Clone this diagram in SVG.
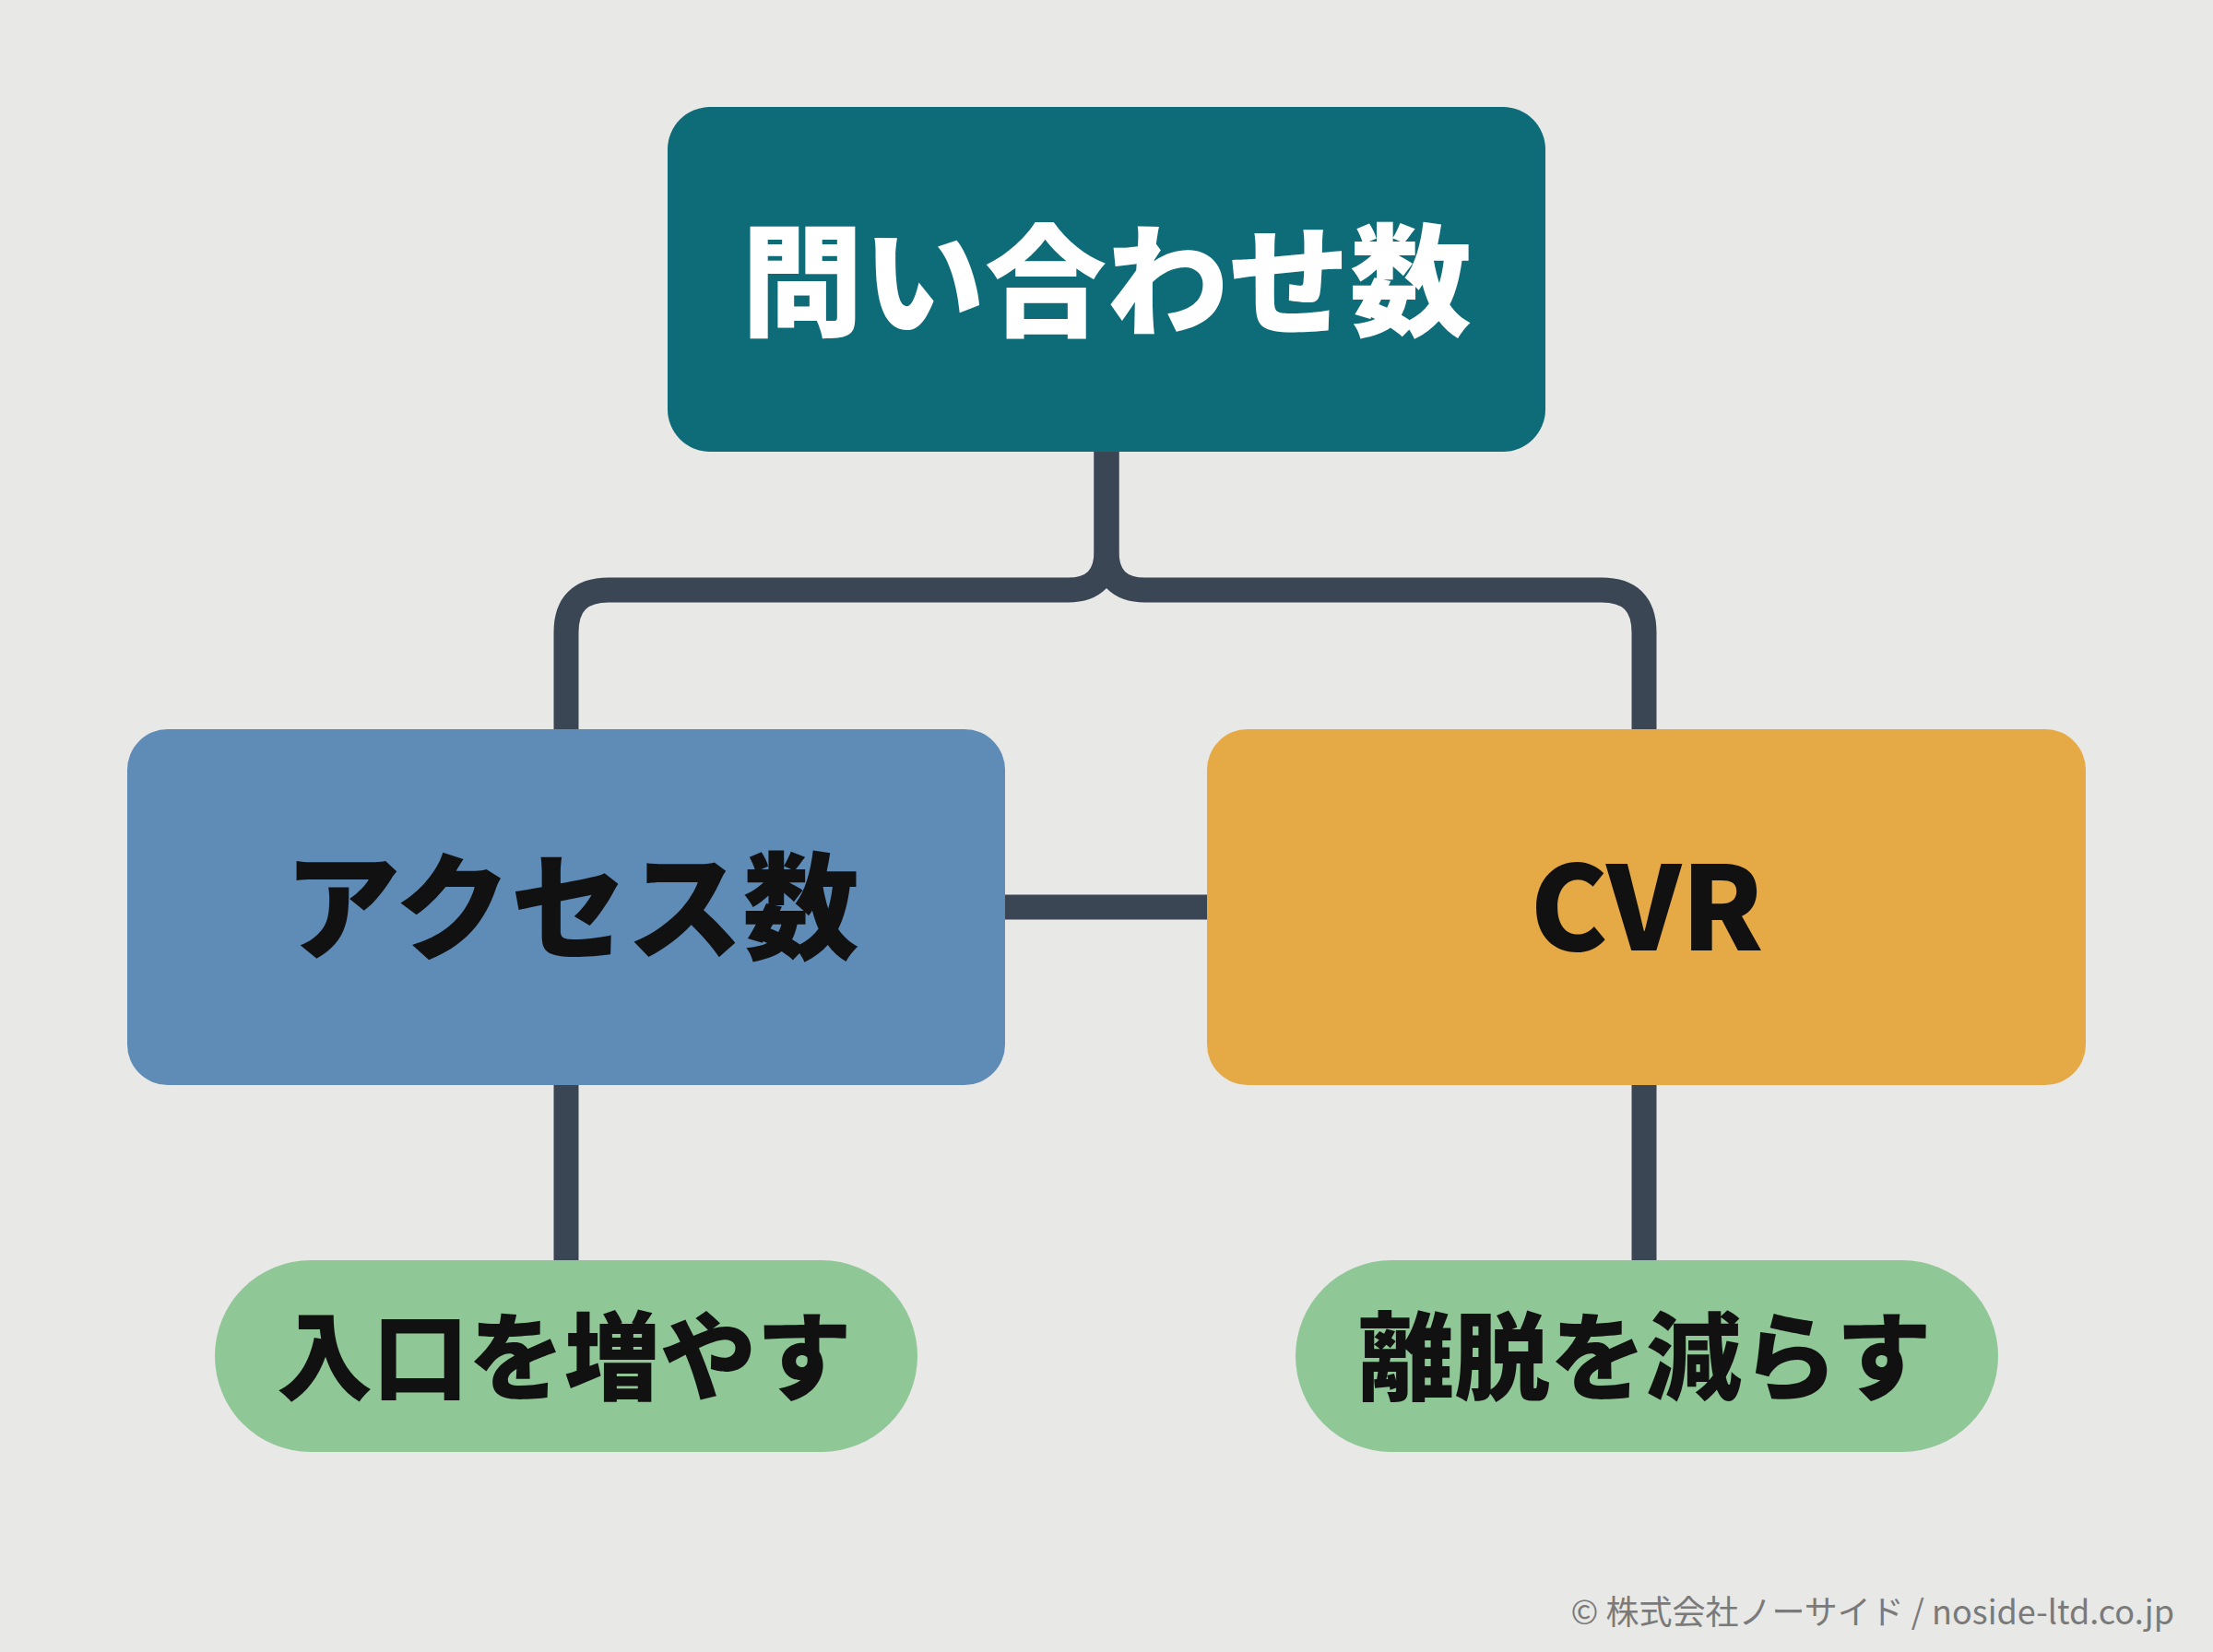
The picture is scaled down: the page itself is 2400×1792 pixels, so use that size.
<svg xmlns="http://www.w3.org/2000/svg" width="2400" height="1792" viewBox="0 0 2400 1792">
<style>
.t{font-family:"Noto Sans CJK JP","Noto Sans",sans-serif;font-weight:900;text-anchor:middle;dominant-baseline:central}
.c{fill:none;stroke:#3a4654;stroke-width:27}
</style>
<rect width="2400" height="1792" fill="#e8e8e6"/>
<g id="connectors">
<path class="c" d="M1200 490 V598 Q1200 640 1158 640 H660 Q614 640 614 686 V791"/>
<path class="c" d="M1200 490 V598 Q1200 640 1242 640 H1737 Q1783 640 1783 686 V791"/>
<path class="c" d="M1090 984 H1309"/>
<path class="c" d="M614 1177 V1367"/>
<path class="c" d="M1783 1177 V1367"/>
</g>
<g id="top"><rect x="724" y="116" width="952" height="374" rx="46" fill="#0e6b78"/><text class="t" x="1200" y="296" font-size="132" fill="#fff">問い合わせ数</text></g>
<g id="access"><rect x="138" y="791" width="952" height="386" rx="44" fill="#5f8bb7"/><text class="t" x="620" y="976" font-size="126" fill="#111">アクセス数</text></g>
<g id="cvr"><rect x="1309" y="791" width="953" height="386" rx="44" fill="#e5a946"/><text class="t" x="1786" y="976" font-size="126" fill="#111">CVR</text></g>
<g id="entry"><rect x="233" y="1367" width="762" height="208" rx="104" fill="#8fc796"/><text class="t" x="612" y="1465" font-size="104" fill="#111">入口を増やす</text></g>
<g id="bounce"><rect x="1405" y="1367" width="762" height="208" rx="104" fill="#8fc796"/><text class="t" x="1784" y="1465" font-size="104" fill="#111">離脱を減らす</text></g>
<text x="2358" y="1762" font-family="'Noto Sans CJK JP','Noto Sans',sans-serif" font-size="36" fill="#7a7a7a" text-anchor="end">© 株式会社ノーサイド / noside-ltd.co.jp</text>
</svg>
